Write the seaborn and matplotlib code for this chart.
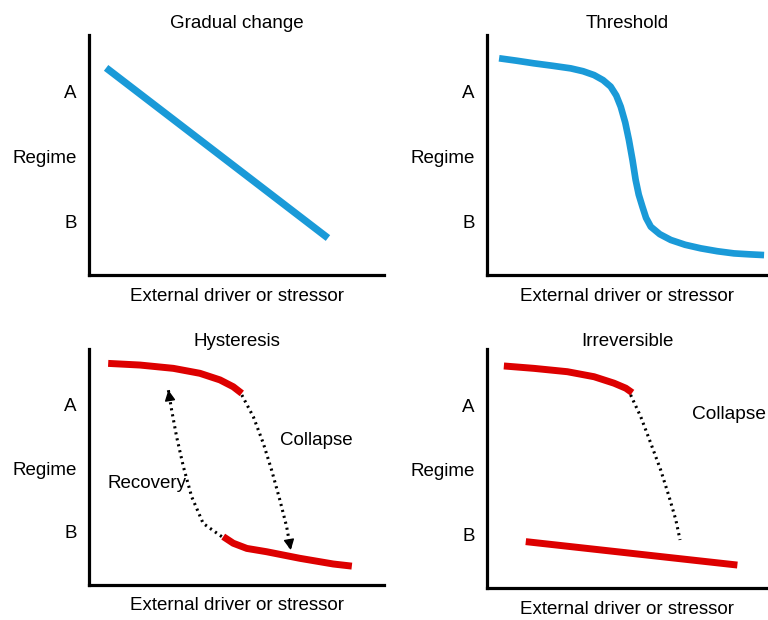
import matplotlib
matplotlib.use('Agg')
import matplotlib.pyplot as plt
import seaborn as sns
import pandas as pd

# ── Данные (читаем с картинки, оси 0..100) ─────────────────────────────────────
gradual_x = [5.8, 81.0]
gradual_y = [86.3, 15.4]

threshold_x = [4.3, 10.5, 16.7, 23.2, 29.8, 34.2, 38.1, 41.3, 44.0, 46.0, 47.6,
               49.2, 50.5, 51.8, 52.9, 54.0, 55.3, 56.6, 58.3, 61.5, 65.4,
               70.5, 76.1, 82.0, 87.9, 93.5, 98.6]
threshold_y = [90.3, 89.3, 88.2, 87.2, 86.1, 84.9, 83.3, 81.2, 78.5, 74.8, 70.1,
               63.5, 56.3, 47.8, 39.6, 33.5, 28.5, 23.8, 20.1, 17.0, 14.6,
               12.6, 11.1, 9.9, 9.0, 8.6, 8.3]

# Hysteresis
hyst_top_x = [6.5, 17.3, 28.6, 37.6, 44.4, 48.9, 51.8]
hyst_top_y = [93.9, 93.2, 91.8, 89.7, 86.9, 84.0, 81.2]
hyst_low_x = [45.5, 48.9, 53.5, 60.2, 71.5, 82.8, 89.1]
hyst_low_y = [20.5, 17.7, 15.5, 14.1, 11.3, 8.9, 8.0]
collapse_x = [51.8, 55.7, 59.1, 61.9, 64.7, 67.0, 68.4]
collapse_y = [80.5, 71.3, 60.0, 48.7, 36.0, 24.7, 14.8]
recovery_x = [45.0, 38.7, 34.8, 32.0, 29.7, 28.0, 26.9]
recovery_y = [20.5, 26.1, 37.4, 50.1, 62.8, 74.2, 82.6]

# Irreversible
irr_top_x = [6.0, 16.7, 28.6, 38.1, 45.2, 49.4, 51.7]
irr_top_y = [92.9, 91.9, 90.5, 88.4, 85.7, 83.6, 81.7]
irr_low_x = [13.8, 89.1]
irr_low_y = [19.4, 9.6]
irr_drop_x = [51.1, 54.7, 58.3, 61.8, 64.8, 67.2, 68.7]
irr_drop_y = [80.8, 71.7, 60.5, 49.4, 38.2, 28.5, 20.1]

titles = ['Gradual change', 'Threshold', 'Hysteresis', 'Irreversible']
tick_pos = [22.5, 49.5, 76.5]
tick_lab = ['B', 'Regime', 'A']
xlabel = 'External driver or stressor'

BLUE = '#1a9ad8'
RED = '#dd0000'
FS = 13.5

sns.set_theme(style='white')
plt.rcParams['font.family'] = ['Liberation Sans', 'DejaVu Sans']
plt.rcParams['text.color'] = 'black'
plt.rcParams['axes.labelcolor'] = 'black'
plt.rcParams['ytick.color'] = 'black'

fig = plt.figure(figsize=(7.68, 6.2), dpi=100)
W, H = 768, 620

# прямоугольники осей в пикселях: left, right, top, bottom
rects = [(89, 384, 35, 275), (487, 768, 35, 275),
         (89, 384, 349, 585), (487, 768, 349, 588)]
axes = []
for (l, r, t, b) in rects:
    axes.append(fig.add_axes([l / W, 1 - b / H, (r - l) / W, (b - t) / H]))


def line(ax, xs, ys, color, lw=5.0):
    df = pd.DataFrame({'x': xs, 'y': ys})
    sns.lineplot(data=df, x='x', y='y', ax=ax, color=color, lw=lw,
                 sort=False, estimator=None, solid_joinstyle='round',
                 solid_capstyle='butt')


def dotted(ax, xs, ys, arrow=True):
    df = pd.DataFrame({'x': xs, 'y': ys})
    sns.lineplot(data=df, x='x', y='y', ax=ax, color='black', lw=2.2,
                 sort=False, estimator=None, linestyle=(0, (0.7, 1.3)))
    if arrow:
        ax.annotate('', xy=(xs[-1], ys[-1]),
                    xytext=(xs[-1] - 0.15 * (xs[-1] - xs[-2]),
                            ys[-1] - 0.15 * (ys[-1] - ys[-2])),
                    arrowprops=dict(arrowstyle='-|>', color='black', lw=1,
                                    mutation_scale=16, shrinkA=0, shrinkB=0))


line(axes[0], gradual_x, gradual_y, BLUE, lw=5.2)
line(axes[1], threshold_x, threshold_y, BLUE, lw=4.8)

line(axes[2], hyst_top_x, hyst_top_y, RED)
line(axes[2], hyst_low_x, hyst_low_y, RED)
dotted(axes[2], collapse_x, collapse_y)
dotted(axes[2], recovery_x, recovery_y)
axes[2].text(64.7, 61.4, 'Collapse', fontsize=FS, va='center', ha='left')
axes[2].text(6.4, 43.1, 'Recovery', fontsize=FS, va='center', ha='left')

line(axes[3], irr_top_x, irr_top_y, RED)
line(axes[3], irr_low_x, irr_low_y, RED)
dotted(axes[3], irr_drop_x, irr_drop_y, arrow=False)
axes[3].text(73.1, 72.4, 'Collapse', fontsize=FS + 0.3, va='center', ha='left',
             clip_on=False)

for i, (ax, title) in enumerate(zip(axes, titles)):
    ax.set_xlim(0, 100)
    ax.set_ylim(0, 100)
    ax.set_xticks([])
    ax.set_yticks(tick_pos)
    ax.set_yticklabels(tick_lab, fontsize=FS)
    ax.tick_params(axis='y', length=0, pad=9)
    ax.set_xlabel(xlabel, fontsize=FS, labelpad=9)
    ax.set_ylabel('')
    ax.set_title(title, fontsize=FS, pad=5 if i < 2 else 2)
    for s in ['top', 'right']:
        ax.spines[s].set_visible(False)
    for s in ['left', 'bottom']:
        ax.spines[s].set_color('black')
        ax.spines[s].set_linewidth(2.3)
    ax.set_facecolor('white')

plt.savefig('out.png', dpi=100, facecolor='white')
